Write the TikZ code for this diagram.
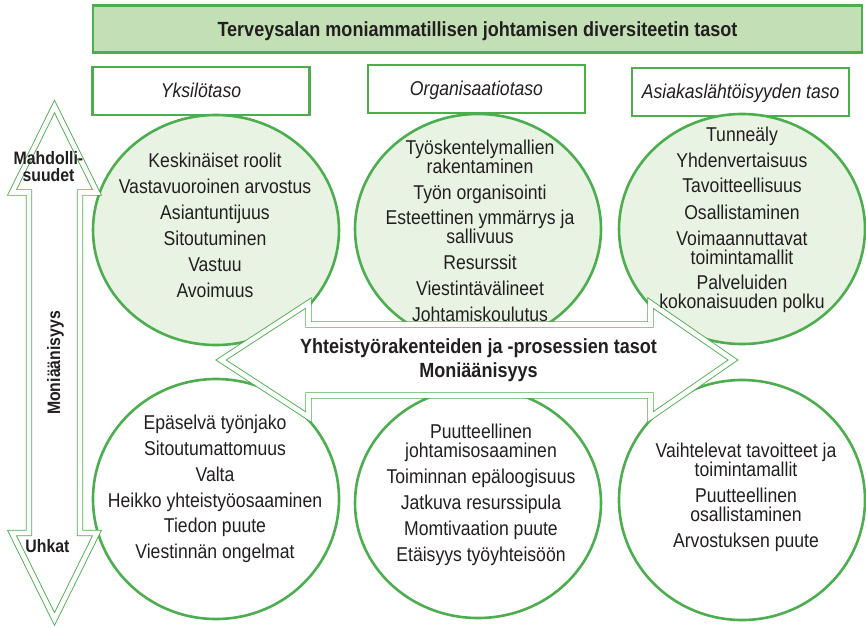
\documentclass[tikz,border=0pt]{standalone}
\usepackage{fontspec}
\setmainfont{Liberation Sans}[FakeStretch=0.88]
\usetikzlibrary{shapes.geometric}
\definecolor{gline}{HTML}{4DAE4F}
\definecolor{cfill}{HTML}{E8F3E4}
\definecolor{tfill}{HTML}{C3DFB5}
\definecolor{txt}{HTML}{231F20}
\begin{document}
\begin{tikzpicture}[x=1pt,y=-1pt,
  circ/.style={draw=gline, line width=2.6pt, ellipse, inner sep=0pt, minimum width=246pt, minimum height=230pt},
  topc/.style={circ, fill=cfill},
  botc/.style={circ, fill=white},
  hdr/.style={draw=gline, line width=2.5pt, fill=white, inner sep=0pt, minimum width=217pt, minimum height=48pt,
    text=txt, font=\itshape\fontsize{20}{22}\selectfont, text height=15pt, text depth=3pt},
  dbl/.style={draw=gline, line width=0.9pt, double=white, double distance=4.6pt, fill=white, line join=miter},
  ct/.style={font=\fontsize{20}{19}\selectfont, text=txt, anchor=base, inner sep=0pt},
  bt/.style={font=\bfseries\fontsize{20.5}{22}\selectfont, text=txt, anchor=base, inner sep=0pt},
  st/.style={font=\bfseries\fontsize{18}{18}\selectfont, text=txt, anchor=base, inner sep=0pt}]
\useasboundingbox (0,0) rectangle (866,627);
\fill[white] (0,0) rectangle (866,627);

% title
\node[draw=gline, line width=2.5pt, fill=tfill, inner sep=0pt, minimum width=769pt, minimum height=47pt,
  text=txt, font=\bfseries\fontsize{20.5}{22}\selectfont, text height=16pt, text depth=2pt] (title) at (477.5,29) {Terveysalan moniammatillisen johtamisen diversiteetin tasot};

% header boxes
\node[hdr] (h1) at (201,91) {Yksilötaso};
\node[hdr] (h2) at (476.5,89) {Organisaatiotaso};
\node[hdr] (h3) at (740.7,92) {Asiakaslähtöisyyden taso};

% circles
\node[topc] (c1) at (216,230) {};
\node[topc] (c2) at (478,229) {};
\node[topc] (c3) at (742,229) {};
\node[botc, minimum height=240pt] (c4) at (216,499) {};
\node[botc] (c5) at (478,503) {};
\node[botc, minimum height=240pt] (c6) at (742,500) {};

% vertical arrow
\draw[dbl] (54.5,106.5) -- (97,192.5) -- (80,192.5) -- (80,533) -- (97,533) -- (54.5,619)
  -- (12,533) -- (29,533) -- (29,192.5) -- (12,192.5) -- cycle;
% horizontal arrow
\draw[dbl] (221,360) -- (308.5,303) -- (308.5,324.5) -- (650.5,324.5) -- (650.5,303) -- (733,360)
  -- (650.5,417) -- (650.5,395.5) -- (308.5,395.5) -- (308.5,417) -- cycle;

% arrow labels
\node[bt] (m1) at (478.5,353) {Yhteistyörakenteiden ja -prosessien tasot};
\node[bt] (m2) at (478.5,377) {Moniäänisyys};
\node[st, rotate=90] (v1) at (60,363) {Moniäänisyys};
\node[st] (s1) at (48.5,164.5) {Mahdolli-};
\node[st] (s2) at (48.5,181) {suudet};
\node[st] (s3) at (47.5,552) {Uhkat};

% circle texts
\foreach \yy/\t [count=\i] in {167/Keskinäiset roolit, 193/Vastavuoroinen arvostus, 219/Asiantuntijuus,
  245/Sitoutuminen, 271/Vastuu, 297/Avoimuus}
  \node[ct] (a\i) at (215,\yy) {\t};
\foreach \yy/\t [count=\i] in {154/Työskentelymallien, 173/rakentaminen, 199/Työn organisointi,
  224/Esteettinen ymmärrys ja, 243/sallivuus, 269/Resurssit, 295/Viestintävälineet, 321/Johtamiskoulutus}
  \node[ct] (b\i) at (480,\yy) {\t};
\foreach \yy/\t [count=\i] in {141/Tunneäly, 167/Yhdenvertaisuus, 192/Tavoitteellisuus, 219/Osallistaminen,
  245/Voimaannuttavat, 264/toimintamallit, 289/Palveluiden, 308/kokonaisuuden polku}
  \node[ct] (d\i) at (742,\yy) {\t};
\foreach \yy/\t [count=\i] in {429/Epäselvä työnjako, 455/Sitoutumattomuus, 481/Valta,
  507/Heikko yhteistyöosaaminen, 532/Tiedon puute, 558/Viestinnän ongelmat}
  \node[ct] (e\i) at (215,\yy) {\t};
\foreach \yy/\t [count=\i] in {438/Puutteellinen, 457/johtamisosaaminen, 483/Toiminnan epäloogisuus,
  509/Jatkuva resurssipula, 535/Momtivaation puute, 561/Etäisyys työyhteisöön}
  \node[ct] (f\i) at (481,\yy) {\t};
\foreach \yy/\t [count=\i] in {457/Vaihtelevat tavoitteet ja, 476/toimintamallit, 502/Puutteellinen,
  521/osallistaminen, 547/Arvostuksen puute}
  \node[ct] (g\i) at (746,\yy) {\t};
\end{tikzpicture}
\end{document}
